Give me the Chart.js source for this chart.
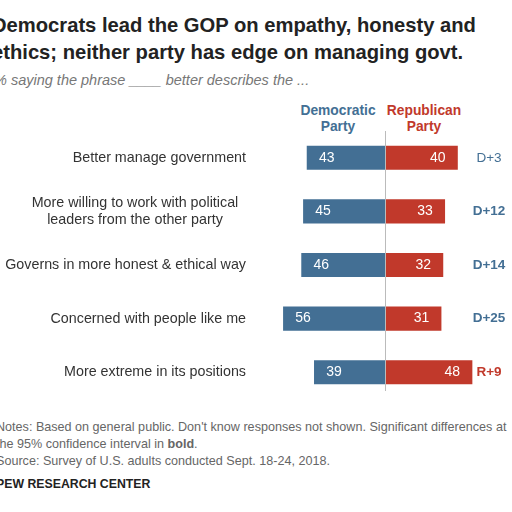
<!DOCTYPE html><html><head><meta charset="utf-8">
<script src="https://cdn.jsdelivr.net/npm/chart.js@4"></script>
<style>
body{margin:0;width:512px;height:512px;overflow:hidden;background:#fff;font-family:"Liberation Sans",Arial,sans-serif;position:relative}
.t{position:absolute;white-space:nowrap}
</style></head><body>
<div class="t" style="left:-8px;top:12px;font-size:20.2px;font-weight:bold;color:#222;line-height:27px">Democrats lead the GOP on empathy, honesty and<br>ethics; neither party has edge on managing govt.</div>
<div class="t" style="left:-6px;top:72px;font-size:14.5px;font-style:italic;color:#777">% saying the phrase ____ better describes the ...</div>
<div class="t" style="left:296px;top:103px;width:84px;text-align:center;font-size:13.8px;font-weight:bold;color:#436f94;line-height:16px">Democratic<br>Party</div>
<div class="t" style="left:382px;top:103px;width:84px;text-align:center;font-size:13.8px;font-weight:bold;color:#c1392b;line-height:16px">Republican<br>Party</div>
<div class="t" style="left:-4px;top:419px;font-size:12.6px;color:#666;line-height:17px">Notes: Based on general public. Don't know responses not shown. Significant differences at<br>the 95% confidence interval in <b>bold</b>.<br>Source: Survey of U.S. adults conducted Sept. 18-24, 2018.</div>
<div class="t" style="left:-4px;top:477px;font-size:12.3px;font-weight:bold;color:#222">PEW RESEARCH CENTER</div>
<div style="position:absolute;left:0;top:131px;width:512px;height:268px"><canvas id="c"></canvas></div>
<script>
const categories=["Better manage government","More willing to work with political|leaders from the other party","Governs in more honest & ethical way","Concerned with people like me","More extreme in its positions"];
const demValues=[43,45,46,56,39];
const repValues=[40,33,32,31,48];
const diffLabels=["D+3","D+12","D+14","D+25","R+9"];
const diffBold=[false,true,true,true,true];
const BLUE="#436f94",RED="#c1392b";
const F="'Liberation Sans',Arial";
const plug={id:"p",afterDatasetsDraw(ch){const c=ch.ctx,x=ch.scales.x,y=ch.scales.y;c.save();
c.strokeStyle="#bbb";c.lineWidth=1;c.beginPath();const x0=Math.round(x.getPixelForValue(0))+0.5;c.moveTo(x0,-30);c.lineTo(x0,ch.chartArea.bottom-8);c.stroke();
c.textBaseline="middle";
categories.forEach((l,i)=>{const yy=y.getPixelForValue(i);const ls=l.split("|");c.fillStyle="#333";c.font="14.3px "+F;
if(ls.length>1){c.textAlign="center";ls.forEach((s,j)=>c.fillText(s,135,yy+(j-(ls.length-1)/2)*17));}
else{c.textAlign="right";c.fillText(ls[0],246,yy);}
c.textAlign="center";c.fillStyle="#fff";c.font="14px "+F;
c.fillText(demValues[i],x.getPixelForValue(-demValues[i])+20,yy);
c.fillText(repValues[i],x.getPixelForValue(repValues[i])-20,yy);
c.fillStyle=diffLabels[i][0]=="D"?BLUE:RED;c.font=(diffBold[i]?"bold ":"")+"13.5px "+F;
c.fillText(diffLabels[i],489,yy);});c.restore();}};
new Chart(document.getElementById("c"),{type:"bar",data:{labels:categories,datasets:[
{data:demValues.map(v=>-v),backgroundColor:BLUE},{data:repValues,backgroundColor:RED}]},
options:{indexAxis:"y",responsive:true,maintainAspectRatio:false,animation:false,layout:{padding:0},
datasets:{bar:{categoryPercentage:1,barPercentage:0.45}},
plugins:{legend:{display:false},tooltip:{enabled:false}},
scales:{x:{stacked:true,display:false,min:-(385-260)/1.82,max:(512-385)/1.82},
y:{stacked:true,grid:{display:false},border:{display:false},ticks:{display:false},afterFit(s){s.width=260;}}}},plugins:[plug]});
</script></body></html>
